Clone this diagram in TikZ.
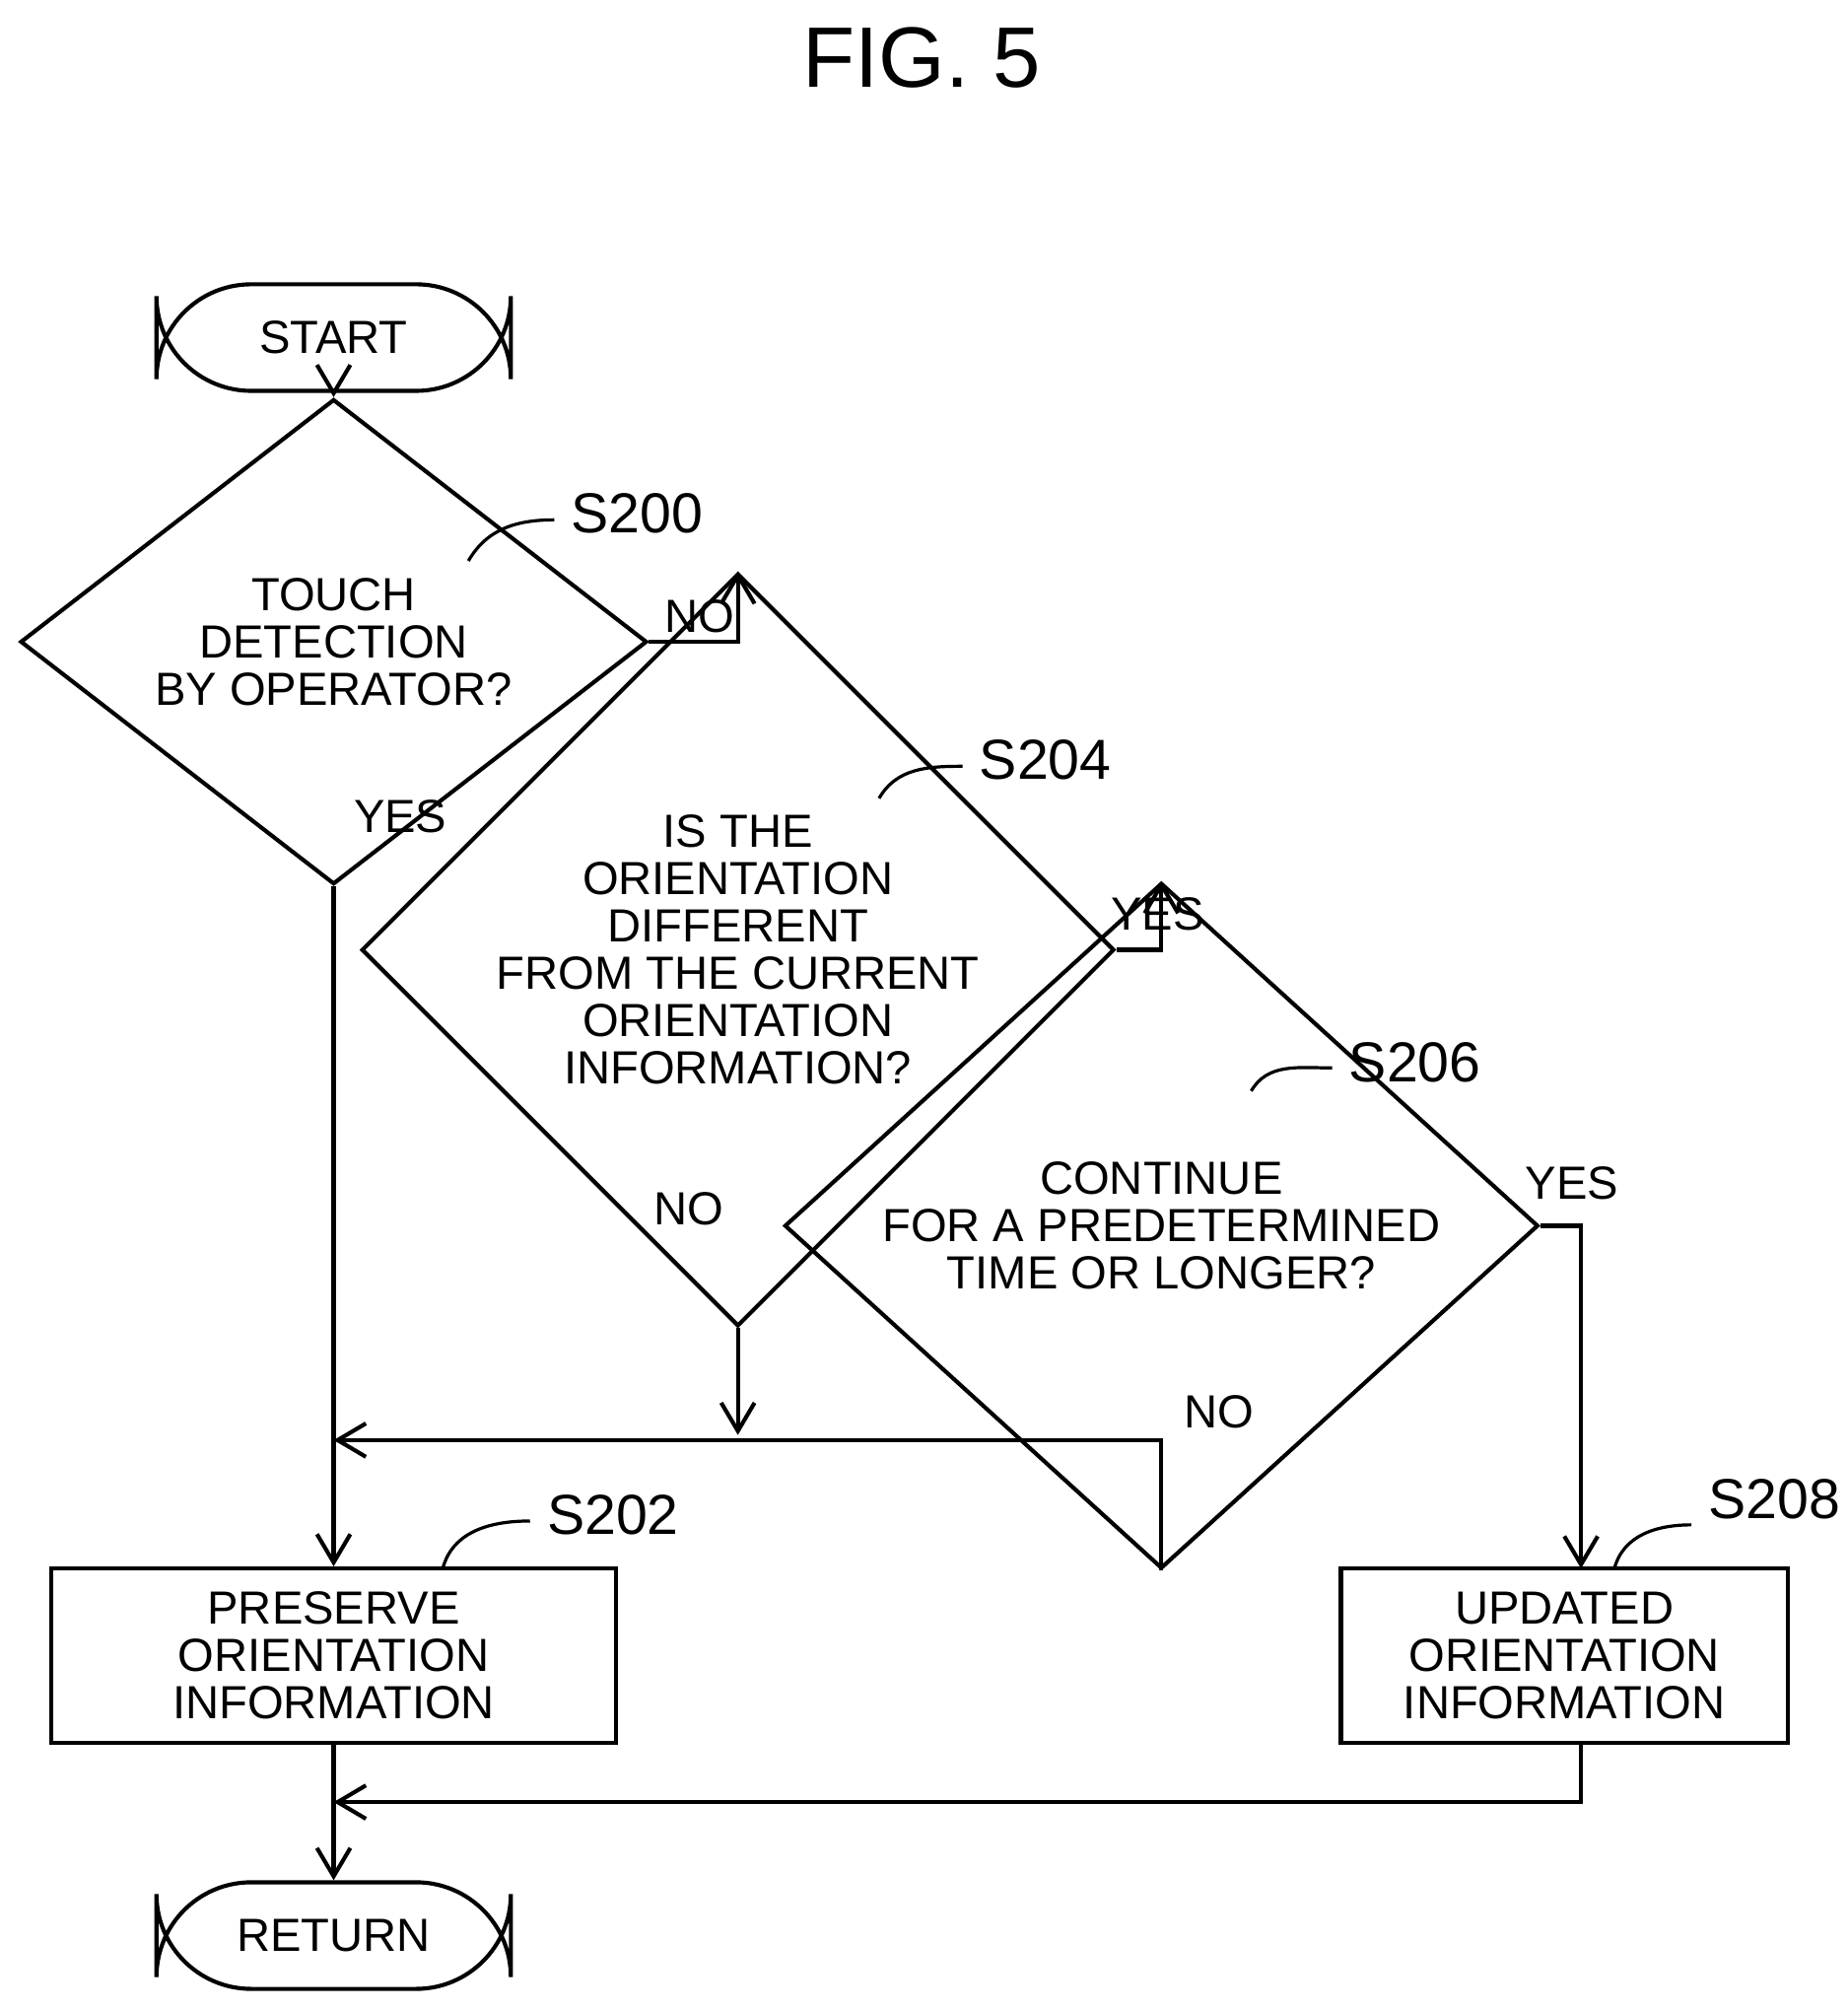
\documentclass[tikz,border=0pt]{standalone}
\usepackage{fontspec}
\setmainfont{Liberation Sans}
\usetikzlibrary{arrows.meta,shapes.geometric,positioning}

\tikzset{
  term/.style={draw,rounded corners=21pt,minimum width=2.76cm,minimum height=0.83cm},
  dec/.style={draw,diamond,inner sep=0pt,align=center},
  proc/.style={draw,align=center,inner sep=0pt},
  lbl/.style={font=\fontsize{10.3pt}{10.5pt}\selectfont},
  stepno/.style={font=\fontsize{12.5pt}{13pt}\selectfont,anchor=west},
}

\begin{document}
\begin{tikzpicture}[x=0.01cm,y=-0.01cm,>={Straight Barb[length=2.2mm,width=2.6mm]},line width=0.9pt,
  every node/.append style={font=\fontsize{10.3pt}{10.5pt}\selectfont}]
\useasboundingbox (0,0) rectangle (1440,1566);

\node[font=\fontsize{19pt}{20pt}\selectfont] (title) at (718,45) {FIG. 5};

% nodes
\node[term] (start) at (260,263) {START};
\node[dec,minimum width=4.88cm,minimum height=2.18cm] (touch) at (260,500) {TOUCH\\DETECTION\\BY OPERATOR?};
\node[dec,minimum width=5.67cm,minimum height=3.64cm] (orient) at (575,740) {IS THE\\ORIENTATION\\DIFFERENT\\FROM THE CURRENT\\ORIENTATION\\INFORMATION?};
\node[dec,minimum width=5.87cm,minimum height=2.54cm] (cont) at (905,955) {CONTINUE\\FOR A PREDETERMINED\\TIME OR LONGER?};
\node[proc,minimum width=4.4cm,minimum height=1.36cm] (keep) at (260,1290) {PRESERVE\\ORIENTATION\\INFORMATION};
\node[proc,minimum width=3.48cm,minimum height=1.36cm] (upd) at (1219,1290) {UPDATED\\ORIENTATION\\INFORMATION};
\node[term] (ret) at (260,1508) {RETURN};

\coordinate (m1) at (260,1122);
\coordinate (m2) at (260,1404);
\coordinate (u1) at (1232,1222);
\coordinate (u2) at (1232,1358);

% connectors
\draw[->] (start) -- (touch);
\draw[->] (touch.east) -| (orient.north);
\draw (touch.south) -- (m1);
\draw[->] (m1) -- (keep);
\draw[->] (orient.east) -| (cont.north);
\draw[->] (orient.south) -- (575,1118);
\draw[->] (cont.south) |- (m1);
\draw[->] (cont.east) -| (u1);
\draw[->] (keep) -- (ret);
\draw[->] (u2) |- (m2);

% branch labels
\node[lbl] (n1) at (545,480) {NO};
\node[lbl] (y1) at (312,636) {YES};
\node[lbl] (y2) at (902,712) {YES};
\node[lbl] (n2) at (537,942) {NO};
\node[lbl] (y3) at (1225,922) {YES};
\node[lbl] (n3) at (950,1100) {NO};

% step numbers
\node[stepno] (s200) at (432,400) {S200};
\draw[line width=0.7pt] (365,437) to[out=60,in=180] (432,405);
\node[stepno] (s204) at (750,592) {S204};
\draw[line width=0.7pt] (685,622) to[out=60,in=180] (750,597);
\node[stepno] (s206) at (1038,828) {S206};
\draw[line width=0.7pt] (975,850) to[out=60,in=180] (1038,832);
\node[stepno] (s202) at (413,1180) {S202};
\draw[line width=0.7pt] (345,1222) to[out=75,in=180] (413,1185);
\node[stepno] (s208) at (1318,1168) {S208};
\draw[line width=0.7pt] (1258,1222) to[out=75,in=180] (1318,1188);
\end{tikzpicture}
\end{document}
